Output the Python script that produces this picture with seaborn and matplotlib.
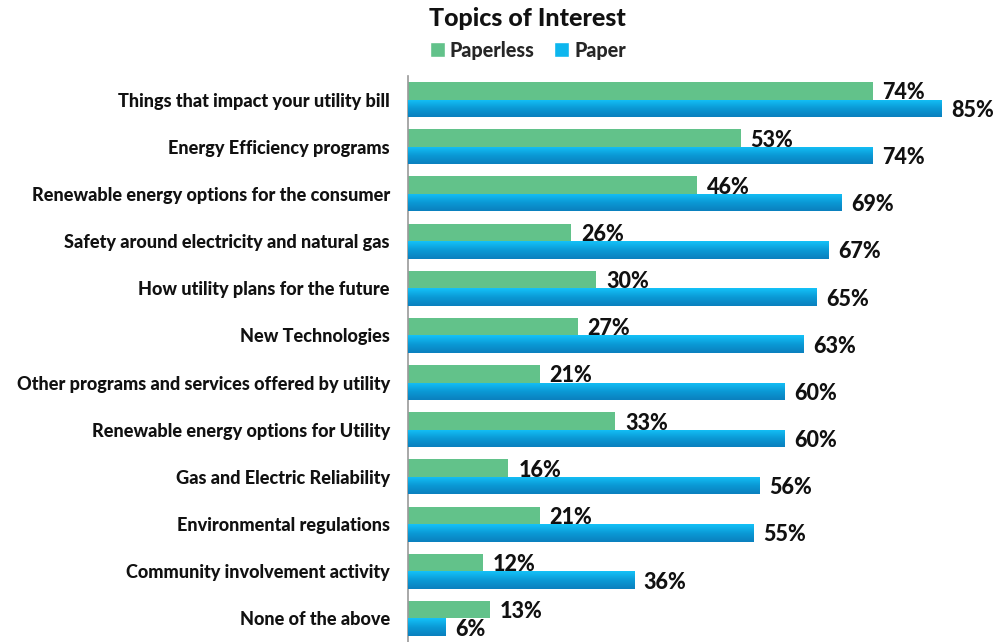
import numpy as np
import pandas as pd
import matplotlib
matplotlib.use("Agg")
import matplotlib.pyplot as plt
from matplotlib.patches import Patch
from matplotlib.colors import LinearSegmentedColormap
import seaborn as sns

categories = [
    "Things that impact your utility bill",
    "Energy Efficiency programs",
    "Renewable energy options for the consumer",
    "Safety around electricity and natural gas",
    "How utility plans for the future",
    "New Technologies",
    "Other programs and services offered by utility",
    "Renewable energy options for Utility",
    "Gas and Electric Reliability",
    "Environmental regulations",
    "Community involvement activity",
    "None of the above",
]
paperless = [74, 53, 46, 26, 30, 27, 21, 33, 16, 21, 12, 13]
paper = [85, 74, 69, 67, 65, 63, 60, 60, 56, 55, 36, 6]
series = ["Paperless", "Paper"]

GREEN = "#62C28A"
BLUE = "#0DB6EE"
W = 900

df = pd.DataFrame({
    "category": categories * 2,
    "value": paperless + paper,
    "series": ["Paperless"] * len(categories) + ["Paper"] * len(categories),
})

sns.set_theme(style="white")
plt.rcParams["font.family"] = ["Lato", "DejaVu Sans"]
plt.rcParams["font.weight"] = W

fig = plt.figure(figsize=(9.94, 6.42), dpi=100)
ax = fig.add_axes([408 / 994, 0.0, 1 - 408 / 994, 1 - 76 / 642])

sns.barplot(data=df, y="category", x="value", hue="series", hue_order=series,
            palette=[GREEN, BLUE], orient="h", width=0.74, ax=ax,
            legend=False, saturation=1, linewidth=0)

ax.set_xlim(0, 93.3)
ax.set_ylim(11.5, -0.5)
ax.set_xlabel("")
ax.set_ylabel("")
ax.set_xticks([])
ax.tick_params(axis="y", length=0, pad=13, labelsize=13.1, labelcolor="#111111")
for lbl in ax.get_yticklabels():
    lbl.set_fontweight(W)
for s in ["top", "right", "bottom"]:
    ax.spines[s].set_visible(False)
ax.spines["left"].set_color("#999999")
ax.spines["left"].set_linewidth(1.2)

cmap = LinearSegmentedColormap.from_list("bl", ["#14C2F8", "#0B9AD6", "#0A80BE"])
grad = np.linspace(0, 1, 64).reshape(-1, 1)
for container, vals in zip(ax.containers, [paperless, paper]):
    for bar, v in zip(container, vals):
        y = bar.get_y() + bar.get_height() / 2
        ax.annotate(f"{v}%", xy=(bar.get_width(), y), xytext=(7, -1.5),
                    textcoords="offset points", va="center", ha="left",
                    fontsize=15.5, fontweight=W, color="#111111")
for bar in ax.containers[1]:
    x0, y0 = bar.get_x(), bar.get_y()
    w, h = bar.get_width(), bar.get_height()
    im = ax.imshow(grad, cmap=cmap, aspect="auto",
                   extent=(x0, x0 + w, y0 + h, y0), origin="upper", zorder=3)
    im.set_clip_path(bar)
ax.set_xlim(0, 93.3)
ax.set_ylim(11.5, -0.5)

fig.text(527 / 994, 1 - 19 / 642, "Topics of Interest", ha="center", va="center",
         fontsize=18, fontweight=W, color="#111111")
handles = [Patch(facecolor=GREEN, label="Paperless"), Patch(facecolor=BLUE, label="Paper")]
fig.legend(handles=handles, loc="center", bbox_to_anchor=(528 / 994, 1 - 50 / 642),
           ncol=2, frameon=False, handlelength=0.75, handleheight=0.75,
           handletextpad=0.25, columnspacing=1.0,
           prop={"weight": W, "size": 14.2})

fig.savefig("out.png", dpi=100)
